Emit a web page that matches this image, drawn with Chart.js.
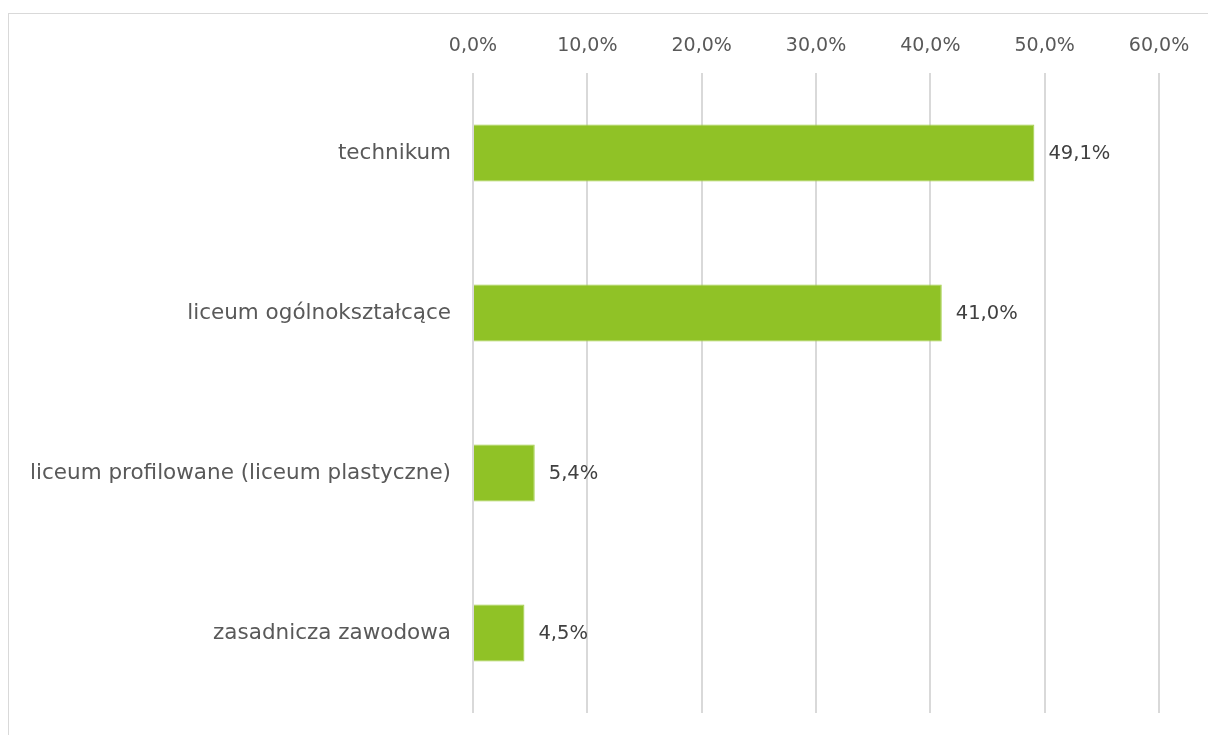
<!DOCTYPE html>
<html>
<head>
<meta charset="utf-8">
<script src="https://cdn.jsdelivr.net/npm/chart.js@4/dist/chart.umd.min.js"></script>
<style>
html,body{margin:0;padding:0;background:#fff;overflow:hidden;}
#frame{position:absolute;left:8px;top:13px;width:1400px;height:900px;border:1.5px solid #d9d9d9;box-sizing:border-box;}
#wrap{position:absolute;left:0;top:0;width:1208px;height:735px;}
</style>
</head>
<body>
<div id="frame"></div>
<div id="wrap"><canvas id="c" width="1208" height="735"></canvas></div>
<script>
const categories = ["technikum", "liceum ogólnokształcące", "liceum profilowane (liceum plastyczne)", "zasadnicza zawodowa"];
const values = [49.1, 41.0, 5.4, 4.5];
const xTicksMax = 60;
const xTickStep = 10;

const FONT = "'DejaVu Sans', sans-serif";
const fmt = v => v.toFixed(1).replace('.', ',') + '%';

const valueLabels = {
  id: 'valueLabels',
  afterDatasetsDraw(chart) {
    const ctx = chart.ctx;
    const meta = chart.getDatasetMeta(0);
    ctx.save();
    ctx.font = "19.5px " + FONT;
    ctx.fillStyle = '#404040';
    ctx.textAlign = 'left';
    ctx.textBaseline = 'middle';
    meta.data.forEach((bar, i) => {
      ctx.fillText(fmt(values[i]), bar.x + 14, bar.y + 1);
    });
    ctx.restore();
  }
};

new Chart(document.getElementById('c'), {
  type: 'bar',
  data: {
    labels: categories,
    datasets: [{
      data: values,
      backgroundColor: '#90c226',
      borderColor: '#a3d04a',
      borderWidth: 1,
      barPercentage: 0.356,
      categoryPercentage: 1
    }]
  },
  options: {
    indexAxis: 'y',
    responsive: false,
    animation: false,
    devicePixelRatio: 1,
    layout: { padding: { left: 0, top: 0, right: 49, bottom: 22 } },
    plugins: { legend: { display: false }, tooltip: { enabled: false } },
    scales: {
      x: {
        position: 'top',
        min: 0,
        max: xTicksMax,
        ticks: {
          stepSize: xTickStep,
          color: '#595959',
          font: { family: FONT, size: 19 },
          padding: 16,
          callback: v => fmt(v)
        },
        grid: { color: '#d9d9d9', lineWidth: 2, drawTicks: false },
        border: { display: false },
        afterFit(scale) { scale.height = 73; }
      },
      y: {
        ticks: {
          color: '#595959',
          font: { family: FONT, size: 21.5 },
          padding: 14
        },
        grid: { display: false },
        border: { display: false },
        afterFit(scale) { scale.width = 473; scale.paddingTop = 0; scale.paddingBottom = 0; }
      }
    }
  },
  plugins: [valueLabels]
});
</script>
</body>
</html>
